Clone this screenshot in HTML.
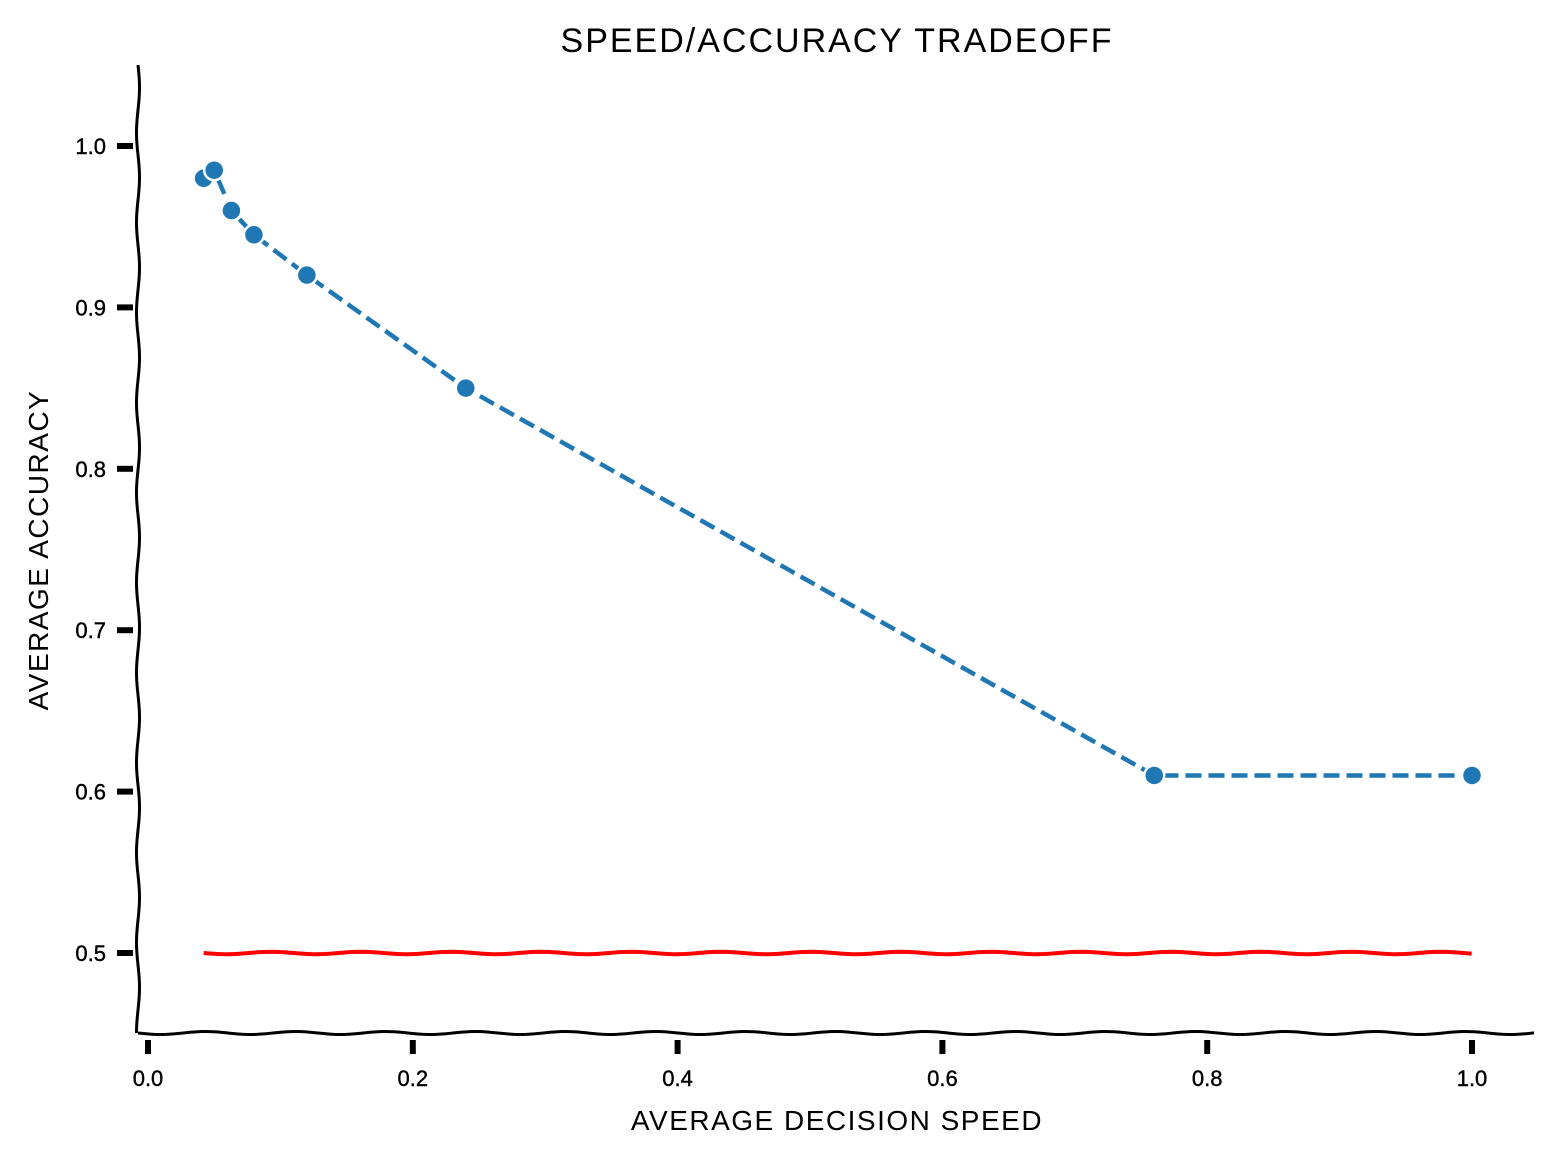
<!DOCTYPE html>
<html><head><meta charset="utf-8"><style>
html,body{margin:0;padding:0;background:#fff;}
svg{display:block;}
text{font-family:"Liberation Sans",sans-serif;fill:#000;}
</style></head><body>
<svg id="chart" width="1555" height="1155" viewBox="0 0 1555 1155">
<text x="837" y="52" text-anchor="middle" font-size="34" letter-spacing="2">SPEED/ACCURACY TRADEOFF</text>
<text x="837" y="1130" text-anchor="middle" font-size="28" letter-spacing="1.5">AVERAGE DECISION SPEED</text>
<text transform="translate(48,550) rotate(-90)" text-anchor="middle" font-size="28" letter-spacing="1.5">AVERAGE ACCURACY</text>
<g id="axes"></g>
<g id="marks"></g>
</svg>
<script>
const xVals=[0.042,0.05,0.063,0.08,0.12,0.24,0.76,1.0];
const yVals=[0.98,0.985,0.96,0.945,0.92,0.85,0.61,0.61];
const chanceX=[0.042,1.0];
const chanceY=[0.5,0.5];
const xTicks=[0.0,0.2,0.4,0.6,0.8,1.0];
const yTicks=[0.5,0.6,0.7,0.8,0.9,1.0];
const xTickLabels=["0.0","0.2","0.4","0.6","0.8","1.0"];
const yTickLabels=["0.5","0.6","0.7","0.8","0.9","1.0"];

const NS="http://www.w3.org/2000/svg";
const sx=v=>148+v*1324;
const sy=v=>953-(v-0.5)*1614;
const axes=document.getElementById('axes'), marks=document.getElementById('marks');
function mk(tag,attrs,parent){const e=document.createElementNS(NS,tag);for(const k in attrs)e.setAttribute(k,attrs[k]);parent.appendChild(e);return e;}
function wavyH(x0,x1,y,amp,per){let d=`M${x0},${y}`;for(let x=x0;x<=x1;x+=4)d+=` L${x},${(y+amp*Math.sin((x-x0)/per*2*Math.PI)).toFixed(2)}`;return d;}
function wavyV(y0,y1,x,amp,per){let d=`M${x},${y0}`;for(let y=y0;y<=y1;y+=4)d+=` L${(x+amp*Math.sin((y-y0)/per*2*Math.PI)).toFixed(2)},${y}`;return d;}
let sp=mk('path',{d:wavyV(65,1033,138,1.5,90),stroke:'#000','stroke-width':3,fill:'none'},axes);


sp=mk('path',{d:wavyH(138,1537,1033,1.5,90),stroke:'#000','stroke-width':3,fill:'none'},axes);


xTicks.forEach((t,i)=>{
 const l=mk('line',{x1:sx(t),x2:sx(t),y1:1040,y2:1054,stroke:'#000','stroke-width':6},axes);
 
 
 const tx=mk('text',{x:sx(t),y:1086,'text-anchor':'middle','font-size':22,'stroke':'#000','stroke-width':0.4},axes);
 tx.textContent=xTickLabels[i];
 
 
});
yTicks.forEach((t,i)=>{
 const l=mk('line',{x1:117,x2:133,y1:sy(t),y2:sy(t),stroke:'#000','stroke-width':6},axes);
 
 
 const tx=mk('text',{x:106,y:sy(t)+8,'text-anchor':'end','font-size':22,'stroke':'#000','stroke-width':0.4},axes);
 tx.textContent=yTickLabels[i];
 
 
});
let cd=wavyH(sx(chanceX[0]),sx(chanceX[1]),sy(chanceY[0]),1.2,90);
const cl=mk('path',{d:cd,stroke:'#ff0000','stroke-width':4,fill:'none'},marks);


const pd=xVals.map((x,i)=>(i?'L':'M')+sx(x)+','+sy(yVals[i])).join(' ');
const ln=mk('path',{d:pd,stroke:'#1f77b4','stroke-width':4.5,fill:'none','stroke-dasharray':'16,7'},marks);


xVals.forEach((x,i)=>{
 const c=mk('circle',{cx:sx(x),cy:sy(yVals[i]),r:10,fill:'#1f77b4',stroke:'#fff','stroke-width':2.5},marks);
 
 
});
</script>
</body></html>
